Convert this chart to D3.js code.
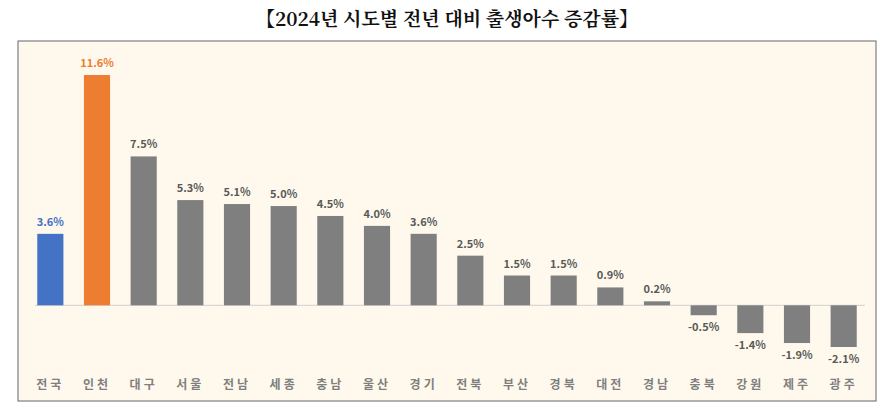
<!DOCTYPE html>
<html><head><meta charset="utf-8">
<script src="https://cdn.jsdelivr.net/npm/d3@7"></script>
<style>body{margin:0;background:#fff}</style></head>
<body><svg id="c" width="894" height="420"></svg>
<script>
const categories=["전국","인천","대구","서울","전남","세종","충남","울산","경기","전북","부산","경북","대전","경남","충북","강원","제주","광주"];
const values=[3.6,11.6,7.5,5.3,5.1,5.0,4.5,4.0,3.6,2.5,1.5,1.5,0.9,0.2,-0.5,-1.4,-1.9,-2.1];
const title="【2024년 시도별 전년 대비 출생아수 증감률】";
const svg=d3.select("#c");
svg.append("text").attr("x",447).attr("y",26).attr("text-anchor","middle")
 .style("font-family","'Noto Serif CJK KR','Noto Sans CJK KR',serif").style("font-weight","bold").style("font-size","19px").attr("fill","#111").text(title);
svg.append("rect").attr("x",18).attr("y",41).attr("width",858).attr("height",360).attr("fill","#FEF9EC").attr("stroke","#666").attr("stroke-width",1);
const x=d3.scaleBand().domain(categories).range([27,867]).paddingInner(0.44).paddingOuter(0.22);
const y=d3.scaleLinear().domain([-2.1,11.6]).range([347,75]);
svg.append("line").attr("x1",35).attr("x2",865).attr("y1",y(0)).attr("y2",y(0)).attr("stroke","#d0d0d0");
const col=(d,i)=>i===0?"#4472C4":i===1?"#ED7D31":"#7F7F7F";
const lcol=(d,i)=>i===0?"#4472C4":i===1?"#ED7D31":"#595959";
svg.selectAll("rect.b").data(values).join("rect").attr("class","b")
 .attr("x",(d,i)=>x(categories[i])).attr("width",x.bandwidth())
 .attr("y",d=>y(Math.max(0,d))).attr("height",d=>Math.abs(y(d)-y(0))).attr("fill",col);
svg.selectAll("text.v").data(values).join("text").attr("class","v")
 .attr("x",(d,i)=>x(categories[i])+x.bandwidth()/2)
 .attr("y",d=>d>=0?y(d)-8:y(d)+16).attr("text-anchor","middle")
 .style("font-family","'Noto Sans CJK KR',sans-serif").style("font-weight","bold").style("font-size","11px")
 .attr("fill",lcol).text(d=>d.toFixed(1)+"%");
svg.selectAll("text.c").data(categories).join("text").attr("class","c")
 .attr("x",d=>x(d)+x.bandwidth()/2).attr("y",389).attr("text-anchor","middle")
 .style("font-family","'Noto Sans CJK KR',sans-serif").style("font-weight","bold").style("font-size","12px").style("letter-spacing","3px")
 .attr("fill","#7F7F7F").text(d=>d);
</script></body></html>
